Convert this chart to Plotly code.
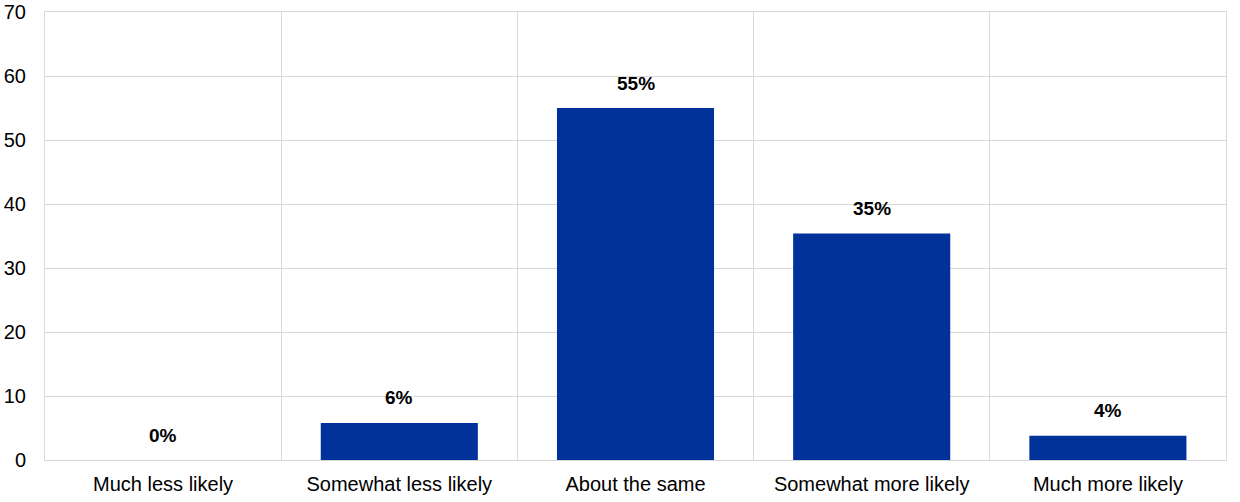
import plotly.graph_objects as go

categories = ["Much less likely", "Somewhat less likely", "About the same", "Somewhat more likely", "Much more likely"]
values = [0, 5.8, 55.0, 35.4, 3.8]
labels = ["0%", "6%", "55%", "35%", "4%"]
y_ticks = [0, 10, 20, 30, 40, 50, 60, 70]

grid = "#d9d9d9"
fig = go.Figure()
fig.add_trace(go.Bar(x=categories, y=values, marker=dict(color="#003299", line=dict(width=0)),
                     width=0.665, hoverinfo="x+y"))

for c, v, t in zip(categories, values, labels):
    fig.add_annotation(x=c, y=v, text="<b>" + t + "</b>", showarrow=False,
                       yanchor="middle", yshift=25,
                       font=dict(family="Liberation Sans, Arial", size=19, color="#000000"))

fig.update_layout(
    width=1240, height=502,
    margin=dict(l=45, r=14, t=12, b=42),
    plot_bgcolor="white", paper_bgcolor="white",
    showlegend=False,
    font=dict(family="Liberation Sans, Arial", size=20, color="#000000"),
    bargap=0.335,
)
fig.update_xaxes(type="category", range=[-0.5, 4.5], tickson="boundaries", showgrid=True,
                 gridcolor=grid, gridwidth=1, showline=True, mirror=True, linecolor=grid,
                 linewidth=1, ticks="", tickfont=dict(size=20), automargin=False,
                 ticklabelstandoff=6)
fig.update_yaxes(range=[0, 70], tickvals=y_ticks, showgrid=True, gridcolor=grid, gridwidth=1,
                 showline=True, mirror=True, linecolor=grid, zeroline=False, ticks="",
                 tickfont=dict(size=20), ticklabelstandoff=14, automargin=False)

fig.write_html("out.html", config={"displayModeBar": False},
               post_script="document.body.style.margin='0';document.body.style.overflow='hidden';")
